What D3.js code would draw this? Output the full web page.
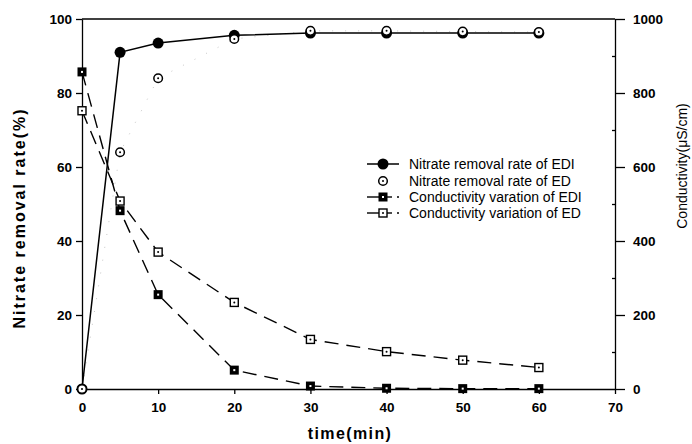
<!DOCTYPE html>
<html lang="en">
<head>
  <meta charset="UTF-8">
  <title>nitrate removal</title>
  <script src="https://d3js.org/d3.v7.min.js"></script>
  <style>
    body { margin: 0; background: #fff; }
    text { font-family: "Liberation Sans", Arial, sans-serif; fill: #000; }
    .tick text { font-size: 13.5px; }
    .axis path, .axis line { stroke: #000; stroke-width: 1.3; }
  </style>
</head>
<body>
  <svg width="692" height="444"></svg>
  <script>
    // data
    let times = [0, 5, 10, 20, 30, 40, 50, 60];
    let nitrateEDI = [0, 91, 93.5, 95.6, 96.2, 96.2, 96.2, 96.2];
    let nitrateED = [0, 64, 84, 94.6, 96.8, 96.8, 96.6, 96.5];
    let condEDI = [857, 482, 255, 51, 8, 2, 1, 1];
    let condED = [752, 508, 370, 234, 134, 101, 78, 58];
    let xTicks = [0, 10, 20, 30, 40, 50, 60, 70];
    let leftTicks = [0, 20, 40, 60, 80, 100];
    let rightTicks = [0, 200, 400, 600, 800, 1000];
    let legendLabels = [
      "Nitrate removal rate of EDI",
      "Nitrate removal rate of ED",
      "Conductivity varation of EDI",
      "Conductivity variation of ED"
    ];

    let svg = d3.select("svg");
    let plotLeft = 82, plotRight = 615, plotTop = 19, plotBottom = 389;

    let x = d3.scaleLinear().domain([0, 70]).range([plotLeft, plotRight]);
    let yL = d3.scaleLinear().domain([0, 100]).range([plotBottom, plotTop]);
    let yR = d3.scaleLinear().domain([0, 1000]).range([plotBottom, plotTop]);

    // axes
    svg.append("g").attr("class", "axis")
      .attr("transform", "translate(0," + plotBottom + ")")
      .call(d3.axisBottom(x).tickValues(xTicks).tickSize(5).tickSizeOuter(0).tickPadding(8));
    svg.append("g").attr("class", "axis")
      .attr("transform", "translate(" + plotLeft + ",0)")
      .call(d3.axisLeft(yL).tickValues(leftTicks).tickSize(6).tickSizeOuter(0).tickPadding(4));
    svg.append("g").attr("class", "axis")
      .attr("transform", "translate(" + plotRight + ",0)")
      .call(d3.axisRight(yR).tickValues(rightTicks).tickFormat(d3.format("d"))
        .tickSize(10).tickSizeOuter(0).tickPadding(8));
    // minor ticks on right axis, pointing in
    svg.append("g").attr("class", "axis")
      .attr("transform", "translate(" + plotRight + ",0)")
      .call(d3.axisLeft(yR).tickValues(d3.range(100, 1000, 200)).tickSize(3).tickSizeOuter(0).tickFormat(""))
      .select(".domain").remove();
    // top frame line
    svg.append("line")
      .attr("x1", plotLeft).attr("x2", plotRight)
      .attr("y1", plotTop).attr("y2", plotTop)
      .attr("stroke", "#000").attr("stroke-width", 1.3);

    svg.selectAll(".tick text").style("font-weight", "600");

    // axis titles
    svg.append("text")
      .attr("transform", "translate(25,218) rotate(-90)")
      .attr("text-anchor", "middle")
      .style("font-size", "16px").style("font-weight", "bold")
      .style("letter-spacing", "2px")
      .text("Nitrate removal rate(%)");
    svg.append("text")
      .attr("x", 350).attr("y", 439)
      .attr("text-anchor", "middle")
      .style("font-size", "16px").style("font-weight", "bold")
      .style("letter-spacing", "1.4px")
      .text("time(min)");
    svg.append("text")
      .attr("transform", "translate(687,166) rotate(-90)")
      .attr("text-anchor", "middle")
      .style("font-size", "14px")
      .text("Conductivity(\u03bcS/cm)");

    let pts = (vals, y) => times.map((t, i) => [x(t), y(vals[i])]);
    let line = d3.line();

    // lines
    svg.append("path").attr("d", line(pts(nitrateED, yL)))
      .attr("fill", "none").attr("stroke", "#c8c8c8").attr("stroke-width", 1)
      .attr("stroke-dasharray", "1,12");
    svg.append("path").attr("d", line(pts(condED, yR)))
      .attr("fill", "none").attr("stroke", "#000").attr("stroke-width", 1.4)
      .attr("stroke-dasharray", "14,8");
    svg.append("path").attr("d", line(pts(condEDI, yR)))
      .attr("fill", "none").attr("stroke", "#000").attr("stroke-width", 1.4)
      .attr("stroke-dasharray", "14,8");
    svg.append("path").attr("d", line(pts(nitrateEDI, yL)))
      .attr("fill", "none").attr("stroke", "#000").attr("stroke-width", 1.5);

    // markers
    function filledCircle(g, cx, cy) {
      g.append("circle").attr("cx", cx).attr("cy", cy).attr("r", 5.5).attr("fill", "#000");
    }
    function openCircle(g, cx, cy) {
      g.append("circle").attr("cx", cx).attr("cy", cy).attr("r", 4.3)
        .attr("fill", "#fff").attr("stroke", "#000").attr("stroke-width", 1.5);
      g.append("circle").attr("cx", cx).attr("cy", cy).attr("r", 1).attr("fill", "#000");
    }
    function filledSquare(g, cx, cy) {
      g.append("rect").attr("x", cx - 4.5).attr("y", cy - 4.5).attr("width", 9).attr("height", 9)
        .attr("fill", "#000");
      g.append("rect").attr("x", cx - 1).attr("y", cy - 1).attr("width", 2).attr("height", 2).attr("fill", "#fff");
    }
    function openSquare(g, cx, cy) {
      g.append("rect").attr("x", cx - 4).attr("y", cy - 4).attr("width", 8).attr("height", 8)
        .attr("fill", "#fff").attr("stroke", "#000").attr("stroke-width", 1.4);
      g.append("circle").attr("cx", cx).attr("cy", cy).attr("r", 1).attr("fill", "#000");
    }

    let marks = svg.append("g");
    pts(condED, yR).forEach(p => openSquare(marks, p[0], p[1]));
    pts(condEDI, yR).forEach(p => filledSquare(marks, p[0], p[1]));
    pts(nitrateEDI, yL).forEach(p => filledCircle(marks, p[0], p[1]));
    pts(nitrateED, yL).forEach(p => openCircle(marks, p[0], p[1]));

    // legend
    let leg = svg.append("g");
    let rowY = [164, 181, 197, 213];
    let drawers = [filledCircle, openCircle, filledSquare, openSquare];
    legendLabels.forEach((lab, i) => {
      let ly = rowY[i];
      if (i == 0) {
        leg.append("line").attr("x1", 367).attr("x2", 399).attr("y1", ly).attr("y2", ly)
          .attr("stroke", "#000").attr("stroke-width", 1.5);
      }
      if (i >= 2) {
        leg.append("line").attr("x1", 367).attr("x2", 392).attr("y1", ly).attr("y2", ly)
          .attr("stroke", "#000").attr("stroke-width", 1.4);
        leg.append("line").attr("x1", 397).attr("x2", 399).attr("y1", ly).attr("y2", ly)
          .attr("stroke", "#000").attr("stroke-width", 1.4);
      }
      drawers[i](leg, 383, ly);
      leg.append("text").attr("x", 409).attr("y", ly + 5)
        .style("font-size", "14px").text(lab);
    });
  </script>
</body>
</html>
